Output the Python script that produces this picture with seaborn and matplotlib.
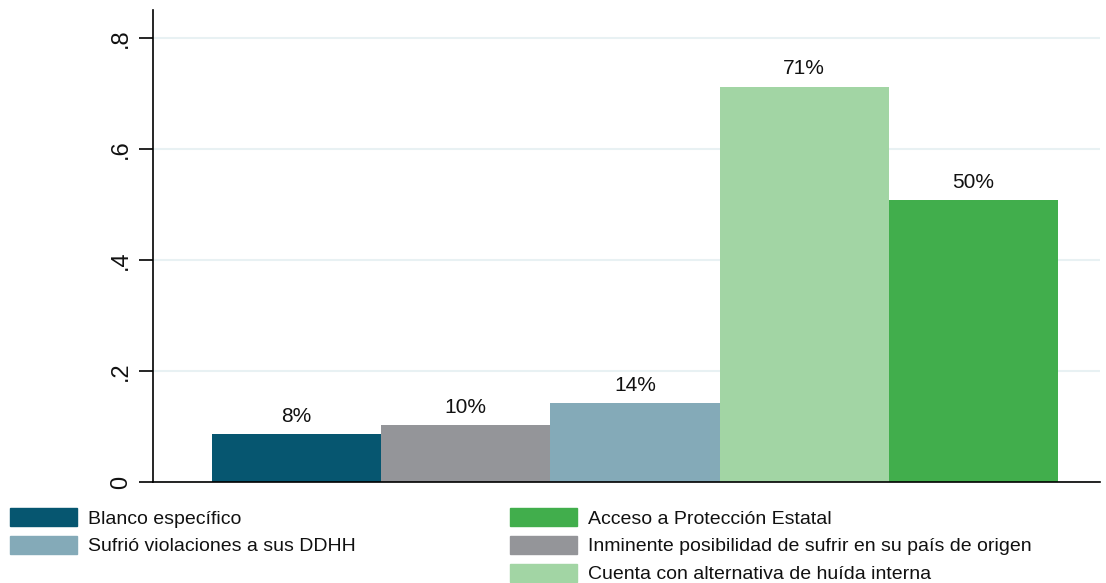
import matplotlib
matplotlib.use("Agg")
import matplotlib.pyplot as plt
import matplotlib.patches as mpatches
import seaborn as sns

# data
categories = ['Blanco específico', 'Inminente posibilidad de sufrir en su país de origen',
              'Sufrió violaciones a sus DDHH', 'Cuenta con alternativa de huída interna',
              'Acceso a Protección Estatal']
values = [0.086, 0.102, 0.142, 0.712, 0.508]
bar_labels = ['8%', '10%', '14%', '71%', '50%']
colors = ['#065670', '#949599', '#84aab8', '#a2d5a4', '#41ae4c']
yticks = [0, 0.2, 0.4, 0.6, 0.8]
ytick_labels = ['0', '.2', '.4', '.6', '.8']

sns.set_style('white')
plt.rcParams['font.family'] = ['Liberation Sans', 'DejaVu Sans']

fig = plt.figure(figsize=(11.06, 5.83), dpi=100)
ax = fig.add_axes([153 / 1106, 1 - 482 / 583, 947 / 1106, 472 / 583])

sns.barplot(x=categories, y=values, hue=categories, palette=colors, order=categories,
            hue_order=categories, width=1, legend=False, saturation=1, linewidth=0,
            ax=ax, zorder=2)

for cont, lab in zip(ax.containers, bar_labels):
    ax.bar_label(cont, labels=[lab], padding=6, fontsize=15, color='#111111')

ax.set_xlim(-0.85, 4.75)
ax.set_ylim(0, 0.85)
ax.set_yticks(yticks)
ax.set_yticklabels(ytick_labels, rotation=90, va='center', fontsize=17)
ax.set_xticks([])
ax.set_xlabel('')
ax.set_ylabel('')
ax.yaxis.grid(True, color='#e8f1f3', linewidth=1.5)
ax.set_axisbelow(True)
ax.tick_params(axis='y', length=10, width=1.2, color='black', left=True, pad=5,
               labelcolor='#111111')
for s in ['top', 'right']:
    ax.spines[s].set_visible(False)
for s in ['left', 'bottom']:
    ax.spines[s].set_color('black')
    ax.spines[s].set_linewidth(1.2)
    ax.spines[s].set_zorder(4)

# legend, two blocks like the original
order_left = [0, 2]
order_right = [4, 1, 3]
kw = dict(frameon=False, fontsize=14, handlelength=3.45, handleheight=1.05,
          handletextpad=0.55, labelspacing=0.42, borderpad=0, borderaxespad=0,
          loc='upper left', labelcolor='#111111')
hl = [mpatches.Patch(color=colors[i], label=categories[i]) for i in order_left]
hr = [mpatches.Patch(color=colors[i], label=categories[i]) for i in order_right]
fig.legend(handles=hl, bbox_to_anchor=(10 / 1106, 1 - 508 / 583), **kw)
fig.legend(handles=hr, bbox_to_anchor=(510 / 1106, 1 - 508 / 583), **kw)

fig.savefig('out.png', dpi=100)
